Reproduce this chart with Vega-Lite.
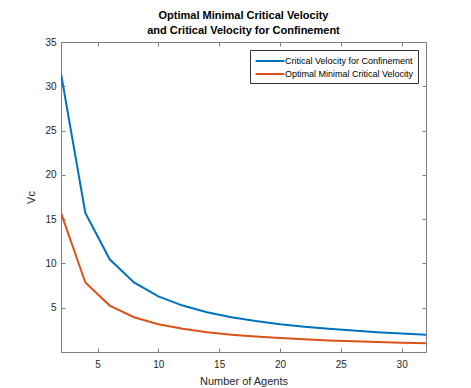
{
  "$schema": "https://vega.github.io/schema/vega-lite/v6.json",
  "width": 365,
  "height": 310,
  "autosize": "none",
  "padding": {"left": 61, "top": 42, "right": 45, "bottom": 36},
  "background": "white",
  "title": {
    "text": ["Optimal Minimal Critical Velocity", "and Critical Velocity for Confinement"],
    "font": "Liberation Sans",
    "fontSize": 11,
    "fontWeight": "bold",
    "color": "#000000",
    "lineHeight": 15,
    "offset": 1,
    "anchor": "middle"
  },
  "config": {
    "view": {"stroke": "#808080", "strokeWidth": 1},
    "legend": {"strokeColor": "#333333", "fillColor": "#ffffff"},
    "axis": {
      "labelFont": "Liberation Sans",
      "titleFont": "Liberation Sans",
      "labelFontSize": 10,
      "titleFontSize": 11,
      "titleFontWeight": "normal",
      "labelColor": "#262626",
      "titleColor": "#262626",
      "domainColor": "#808080",
      "tickColor": "#808080",
      "grid": false
    }
  },
  "data": {
    "values": [
      {"n": 2, "v": 31.42, "s": "Critical Velocity for Confinement"},
      {"n": 4, "v": 15.71, "s": "Critical Velocity for Confinement"},
      {"n": 6, "v": 10.47, "s": "Critical Velocity for Confinement"},
      {"n": 8, "v": 7.85, "s": "Critical Velocity for Confinement"},
      {"n": 10, "v": 6.28, "s": "Critical Velocity for Confinement"},
      {"n": 12, "v": 5.24, "s": "Critical Velocity for Confinement"},
      {"n": 14, "v": 4.49, "s": "Critical Velocity for Confinement"},
      {"n": 16, "v": 3.93, "s": "Critical Velocity for Confinement"},
      {"n": 18, "v": 3.49, "s": "Critical Velocity for Confinement"},
      {"n": 20, "v": 3.14, "s": "Critical Velocity for Confinement"},
      {"n": 22, "v": 2.86, "s": "Critical Velocity for Confinement"},
      {"n": 24, "v": 2.62, "s": "Critical Velocity for Confinement"},
      {"n": 26, "v": 2.42, "s": "Critical Velocity for Confinement"},
      {"n": 28, "v": 2.24, "s": "Critical Velocity for Confinement"},
      {"n": 30, "v": 2.09, "s": "Critical Velocity for Confinement"},
      {"n": 32, "v": 1.96, "s": "Critical Velocity for Confinement"},
      {"n": 2, "v": 15.71, "s": "Optimal Minimal Critical Velocity"},
      {"n": 4, "v": 7.85, "s": "Optimal Minimal Critical Velocity"},
      {"n": 6, "v": 5.24, "s": "Optimal Minimal Critical Velocity"},
      {"n": 8, "v": 3.93, "s": "Optimal Minimal Critical Velocity"},
      {"n": 10, "v": 3.14, "s": "Optimal Minimal Critical Velocity"},
      {"n": 12, "v": 2.62, "s": "Optimal Minimal Critical Velocity"},
      {"n": 14, "v": 2.24, "s": "Optimal Minimal Critical Velocity"},
      {"n": 16, "v": 1.96, "s": "Optimal Minimal Critical Velocity"},
      {"n": 18, "v": 1.75, "s": "Optimal Minimal Critical Velocity"},
      {"n": 20, "v": 1.57, "s": "Optimal Minimal Critical Velocity"},
      {"n": 22, "v": 1.43, "s": "Optimal Minimal Critical Velocity"},
      {"n": 24, "v": 1.31, "s": "Optimal Minimal Critical Velocity"},
      {"n": 26, "v": 1.21, "s": "Optimal Minimal Critical Velocity"},
      {"n": 28, "v": 1.12, "s": "Optimal Minimal Critical Velocity"},
      {"n": 30, "v": 1.05, "s": "Optimal Minimal Critical Velocity"},
      {"n": 32, "v": 0.98, "s": "Optimal Minimal Critical Velocity"}
    ]
  },
  "layer": [
    {
      "mark": {"type": "line", "strokeWidth": 2, "clip": true},
      "encoding": {
        "x": {
          "field": "n", "type": "quantitative",
          "scale": {"domain": [2, 32], "nice": false, "zero": false},
          "axis": {"title": "Number of Agents", "values": [5, 10, 15, 20, 25, 30], "tickSize": -4, "labelPadding": 11, "titlePadding": 6}
        },
        "y": {
          "field": "v", "type": "quantitative",
          "scale": {"domain": [0, 35], "nice": false, "zero": false},
          "axis": {"title": "Vc", "values": [5, 10, 15, 20, 25, 30, 35], "tickSize": -4, "labelPadding": 9, "titlePadding": 8}
        },
        "color": {
          "field": "s", "type": "nominal",
          "sort": ["Critical Velocity for Confinement", "Optimal Minimal Critical Velocity"],
          "scale": {"domain": ["Critical Velocity for Confinement", "Optimal Minimal Critical Velocity"], "range": ["#0072BD", "#D95319"]},
          "legend": {
            "title": null,
            "orient": "top-right",
            "offset": 8,
            "symbolType": "M-2.4,0H2.4",
            "symbolSize": 144,
            "symbolStrokeWidth": 2,
            "symbolOffset": 9,
            "labelFont": "Liberation Sans",
            "labelFontSize": 9,
            "labelColor": "#000000",
            "strokeColor": "#333333",
            "fillColor": "white",
            "padding": 4,
            "rowPadding": 1,
            "labelOffset": 8,
            "cornerRadius": 0
          }
        }
      }
    },
    {
      "mark": {"type": "line", "opacity": 0},
      "encoding": {
        "x": {
          "field": "n", "type": "quantitative",
          "axis": {"orient": "top", "title": null, "labels": false, "values": [5, 10, 15, 20, 25, 30], "tickSize": -4, "domain": false}
        },
        "y": {
          "field": "v", "type": "quantitative",
          "axis": {"orient": "right", "title": null, "labels": false, "values": [5, 10, 15, 20, 25, 30, 35], "tickSize": -4, "domain": false}
        },
        "detail": {"field": "s"}
      }
    }
  ],
  "resolve": {"axis": {"x": "independent", "y": "independent"}}
}
